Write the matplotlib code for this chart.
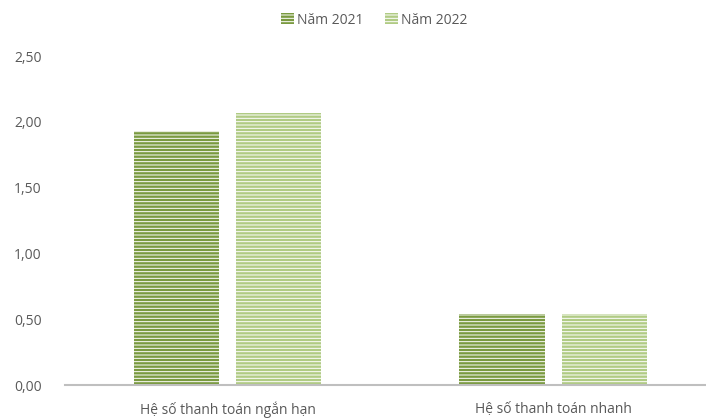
import matplotlib.pyplot as plt
import numpy as np

plt.rcParams['font.family'] = ['Open Sans', 'DejaVu Sans']
plt.rcParams['hatch.linewidth'] = 0.7

categories = ['Hệ số thanh toán ngắn hạn', 'Hệ số thanh toán nhanh']
series_names = ['Năm 2021', 'Năm 2022']
values_2021 = [1.93, 0.54]
values_2022 = [2.07, 0.54]
y_ticks = [0.0, 0.5, 1.0, 1.5, 2.0, 2.5]

colors = ['#7a9a40', '#b0cb84']

fig = plt.figure(figsize=(7.06, 4.19), dpi=100)
ax = fig.add_axes([65 / 706, 34 / 419, 641 / 706, 329 / 419])

x = np.arange(len(categories))
w = 0.262
off = 0.157
for i, (vals, name) in enumerate(zip([values_2021, values_2022], series_names)):
    ax.bar(x + (i * 2 - 1) * off, vals, width=w, color=colors[i],
           edgecolor='white', linewidth=0, hatch='-----', label=name)

ax.set_xlim(-0.5, 1.47)
ax.set_ylim(0, 2.5)
ax.set_yticks(y_ticks)
ax.set_yticklabels([f'{v:.2f}'.replace('.', ',') for v in y_ticks])
ax.set_xticks(x)
ax.set_xticklabels(categories)
ax.tick_params(axis='both', length=0, colors='#595959', labelsize=10)
ax.tick_params(axis='y', pad=17)
ax.tick_params(axis='x', pad=12)
for s in ['left', 'right', 'top']:
    ax.spines[s].set_visible(False)
ax.spines['bottom'].set_color('#bfbfbf')
ax.spines['bottom'].set_linewidth(1.5)

leg = fig.legend(loc='upper center', bbox_to_anchor=(0.53, 1.0), ncol=2,
                 frameon=False, fontsize=10, handlelength=0.9, handleheight=0.9,
                 handletextpad=0.2, columnspacing=1.6)
for t in leg.get_texts():
    t.set_color('#595959')

fig.savefig('out.png', dpi=100)
